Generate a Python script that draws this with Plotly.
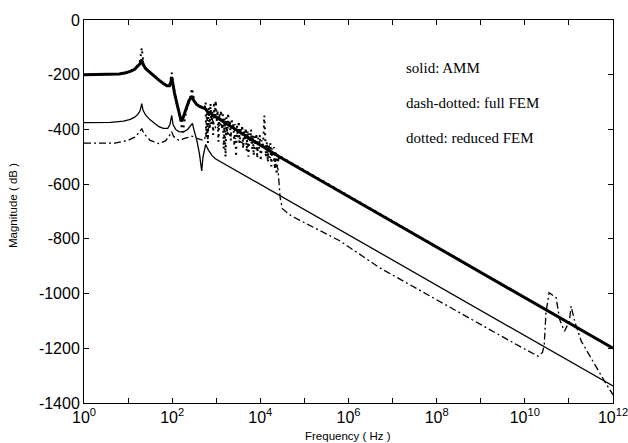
import plotly.graph_objects as go

# ---------------- data (log10 frequency exponents, magnitude in dB) ----------------
amm_upper_exp = [0, 0.6, 0.8, 0.95, 1.05, 1.15, 1.22, 1.27, 1.31, 1.34, 1.4, 1.5, 1.6, 1.7, 1.8,
                 1.88, 1.94, 1.97, 1.99, 2.01, 2.05, 2.1, 2.15, 2.19, 2.22, 2.26, 2.32, 2.38, 2.42,
                 2.45, 2.48, 2.55, 2.62, 2.7, 2.76, 2.8, 4.4, 12]
amm_upper_db = [-200, -199, -197, -193, -188, -180, -170, -160, -145, -162, -178, -193, -207, -220, -232,
                -240, -240, -228, -208, -232, -265, -300, -335, -360, -370, -350, -318, -295, -285,
                -278, -292, -308, -316, -320, -325, -335, -497, -1200]

amm_lower_exp = [0, 0.6, 0.9, 1.05, 1.15, 1.22, 1.27, 1.31, 1.34, 1.4, 1.5, 1.6, 1.7, 1.8, 1.9,
                 1.95, 1.99, 2.02, 2.08, 2.15, 2.25, 2.35, 2.42, 2.46, 2.5, 2.56, 2.62, 2.67, 2.7,
                 2.76, 2.82, 2.9, 2.98, 12]
amm_lower_db = [-375, -374, -370, -363, -355, -345, -333, -306, -330, -348, -365, -378, -390, -396, -396,
                -382, -349, -382, -400, -408, -410, -400, -386, -378, -405, -440, -490, -552, -500,
                -455, -475, -495, -507, -1338]

full_fem_exp = [0, 0.7, 1.0, 1.15, 1.25, 1.31, 1.36, 1.5, 1.7, 1.85, 1.95, 1.99, 2.03, 2.15, 2.3,
                2.45, 2.6, 2.72, 2.83, 2.9, 3.0, 3.1, 3.3, 3.5, 3.7, 3.9, 4.1, 4.3, 4.4, 4.42,
                4.45, 4.5, 4.7, 5.8, 6.71, 9.75, 10.3, 10.4, 10.44, 10.48, 10.55, 10.71, 10.79,
                10.9, 11.01, 11.05, 11.13, 11.28, 11.58, 11.81, 12]
full_fem_db = [-450, -450, -440, -428, -412, -397, -415, -440, -452, -442, -420, -408, -425, -440, -432,
               -425, -435, -440, -392, -360, -400, -380, -420, -440, -460, -470, -490, -510, -545, -590,
               -650, -690, -716, -807, -906, -1181, -1229, -1215, -1187, -1070, -997, -1015, -1095,
               -1138, -1101, -1046, -1101, -1174, -1260, -1321, -1370]

reduced_fem_exp = [0, 0.6, 0.8, 0.95, 1.05, 1.15, 1.22, 1.27, 1.31, 1.35, 1.4, 1.5, 1.6, 1.7, 1.8,
                   1.88, 1.94, 1.99, 2.02, 2.1, 2.17, 2.24, 2.32, 2.4, 2.45, 2.5, 2.58, 2.66, 2.72,
                   2.74, 2.76, 2.77, 2.79, 2.81, 2.83, 2.85, 2.87, 2.89, 2.91, 2.93, 2.95, 2.97, 2.99,
                   3.01, 3.03, 3.05, 3.07, 3.09, 3.11, 3.13, 3.15, 3.17, 3.19, 3.21, 3.23, 3.25, 3.27,
                   3.29, 3.31, 3.33, 3.35, 3.37, 3.39, 3.41, 3.43, 3.45, 3.47, 3.49, 3.51, 3.53, 3.55,
                   3.57, 3.59, 3.61, 3.63, 3.65, 3.67, 3.69, 3.71, 3.73, 3.75, 3.77, 3.79, 3.81, 3.83,
                   3.85, 3.87, 3.89, 3.91, 3.93, 3.95, 3.97, 3.99, 4.01, 4.03, 4.05, 4.07, 4.09, 4.11,
                   4.13, 4.15, 4.17, 4.19, 4.21, 4.23, 4.25, 4.27, 4.29, 4.31, 4.33, 4.35, 4.37, 4.39,
                   4.41, 4.43, 4.46, 12]
reduced_fem_db = [-200, -199, -197, -193, -188, -178, -165, -150, -102, -162, -178, -193, -207, -220, -232,
                  -240, -238, -192, -235, -300, -350, -410, -330, -290, -250, -295, -312, -318, -322,
                  -320, -300, -430, -340, -450, -320, -400, -305, -380, -335, -420, -300, -350, -295,
                  -370, -330, -445, -340, -365, -330, -400, -345, -470, -360, -500, -355, -420, -340,
                  -390, -370, -440, -360, -400, -375, -460, -380, -500, -385, -430, -370, -450, -395,
                  -420, -385, -470, -400, -440, -395, -480, -405, -500, -415, -450, -400, -470, -420,
                  -495, -425, -460, -415, -505, -430, -470, -420, -515, -440, -470, -430, -349, -450,
                  -500, -445, -520, -455, -480, -450, -535, -470, -500, -465, -545, -480, -565, -490,
                  -520, -495, -500, -1200]

x_tick_exp = [0, 2, 4, 6, 8, 10, 12]
x_minor_exp = [1, 3, 5, 7, 9, 11]
y_ticks = [0, -200, -400, -600, -800, -1000, -1200, -1400]

legend_lines = ["solid: AMM", "dash-dotted: full FEM", "dotted: reduced FEM"]

# ---------------- layout geometry (pixels) ----------------
W, H = 628, 443
L, R, T, B = 84, 15, 20, 40
PW, PH = W - L - R, H - T - B


def hz(exps):
    return [10 ** e for e in exps]


def px(xp):
    return (xp - L) / PW


def py(yp):
    return (H - B - yp) / PH


fig = go.Figure()
fig.add_trace(go.Scatter(x=hz(amm_lower_exp), y=amm_lower_db, mode="lines",
                         line=dict(color="black", width=1.3), hoverinfo="skip"))
fig.add_trace(go.Scatter(x=hz(full_fem_exp), y=full_fem_db, mode="lines",
                         line=dict(color="black", width=1.3, dash="7px,3px,2px,3px"), hoverinfo="skip"))
fig.add_trace(go.Scatter(x=hz(reduced_fem_exp), y=reduced_fem_db, mode="lines",
                         line=dict(color="black", width=2.0, dash="2px,4px"), hoverinfo="skip"))
fig.add_trace(go.Scatter(x=hz(amm_upper_exp), y=amm_upper_db, mode="lines",
                         line=dict(color="black", width=3), hoverinfo="skip"))

axis_common = dict(showline=True, linecolor="black", linewidth=1, mirror="ticks",
                   ticks="inside", ticklen=5, tickcolor="black", showgrid=False, zeroline=False,
                   automargin=False, ticklabeloverflow="allow",
                   tickfont=dict(family="Liberation Sans, Arial, sans-serif", size=16, color="black"))

fig.update_xaxes(type="log", range=[0, 12],
                 tickvals=[10 ** e for e in x_tick_exp],
                 ticktext=["10<sup>%d</sup>" % e for e in x_tick_exp],
                 minor=dict(tickvals=[10 ** e for e in x_minor_exp], ticks="inside", ticklen=5,
                            tickcolor="black"),
                 **axis_common)
fig.update_yaxes(range=[-1400, 0], tickvals=y_ticks, ticktext=[str(v) for v in y_ticks],
                 **axis_common)

annotations = [
    dict(text="Magnitude ( dB )", xref="paper", yref="paper", x=px(13), y=py(206),
         textangle=-90, showarrow=False, xanchor="center", yanchor="middle",
         font=dict(family="Liberation Sans, Arial, sans-serif", size=11.5, color="black")),
    dict(text="Frequency ( Hz )", xref="paper", yref="paper", x=px(348), y=py(436),
         showarrow=False, xanchor="center", yanchor="middle",
         font=dict(family="Liberation Sans, Arial, sans-serif", size=11.5, color="black")),
]
for i, t in enumerate(legend_lines):
    annotations.append(dict(text=t, xref="paper", yref="paper", x=px(404),
                            y=py(67.5 + 35.3 * i), showarrow=False,
                            xanchor="left", yanchor="middle",
                            font=dict(family="Liberation Serif, Times New Roman, serif", size=15,
                                      color="black")))

fig.update_layout(width=W, height=H, margin=dict(l=L, r=R, t=T, b=B),
                  paper_bgcolor="white", plot_bgcolor="white", showlegend=False,
                  annotations=annotations)

fig.write_html("out.html")
